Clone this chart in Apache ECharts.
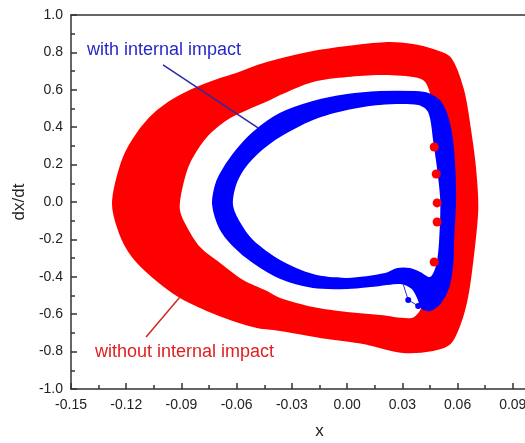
<!DOCTYPE html>
<html>
<head>
<meta charset="utf-8">
<script src="https://cdn.jsdelivr.net/npm/echarts@6/dist/echarts.min.js"></script>
<style>
html,body{margin:0;padding:0;background:#fff;}
#c{width:525px;height:443px;}
</style>
</head>
<body>
<div id="c"></div>
<script>
// ---- data ----
// "without internal impact" band: outer and inner edges [x, dx/dt], clockwise
const redOuter = [
  [-0.1272,-0.005],[-0.1224,0.209],[-0.1163,0.332],[-0.1071,0.449],[-0.0973,0.529],
  [-0.0853,0.594],[-0.0734,0.642],[-0.0620,0.679],[-0.0435,0.743],[-0.0185,0.802],[0.0000,0.829],
  [0.0217,0.850],[0.0359,0.840],[0.0467,0.813],[0.0560,0.770],[0.0630,0.599],
  [0.0668,0.385],[0.0696,0.171],[0.0707,-0.043],[0.0679,-0.326],[0.0652,-0.508],
  [0.0614,-0.647],[0.0560,-0.754],[0.0467,-0.791],[0.0304,-0.802],[0.0087,-0.754],
  [-0.0147,-0.722],[-0.0364,-0.684],[-0.0489,-0.668],[-0.0620,-0.631],[-0.0761,-0.578],
  [-0.0908,-0.508],[-0.1054,-0.401],[-0.1163,-0.294],[-0.1234,-0.166]
];
const redInner = [
  [-0.0908,-0.043],[-0.0897,0.064],[-0.0853,0.209],[-0.0761,0.348],[-0.0652,0.439],
  [-0.0543,0.492],[-0.0418,0.545],[-0.0364,0.572],[-0.0185,0.642],[0.0000,0.668],
  [0.0179,0.679],[0.0359,0.668],[0.0424,0.642],[0.0457,0.545],[0.0473,0.278],
  [0.0478,0.011],[0.0467,-0.310],[0.0440,-0.471],[0.0397,-0.578],[0.0353,-0.620],
  [0.0179,-0.604],[0.0000,-0.588],[-0.0185,-0.561],[-0.0364,-0.513],[-0.0435,-0.476],
  [-0.0565,-0.417],[-0.0690,-0.326],[-0.0799,-0.241],[-0.0870,-0.134]
];
const redDots = [[0.0473,0.294],[0.0484,0.150],[0.0489,-0.005],[0.0489,-0.107],[0.0473,-0.321]];

// "with internal impact" band
const blueOuter = [
  [-0.0728,-0.016],[-0.0717,0.075],[-0.0690,0.144],[-0.0620,0.251],[-0.0511,0.369],
  [-0.0364,0.471],[-0.0185,0.535],[0.0000,0.572],[0.0179,0.588],[0.0370,0.588],
  [0.0440,0.578],[0.0505,0.535],[0.0549,0.439],[0.0576,0.278],[0.0587,0.027],
  [0.0576,-0.203],[0.0571,-0.337],[0.0549,-0.460],[0.0505,-0.540],[0.0451,-0.578],
  [0.0408,-0.567],[0.0386,-0.513],[0.0353,-0.460],[0.0288,-0.433],[0.0179,-0.444],
  [0.0000,-0.460],[-0.0185,-0.455],[-0.0364,-0.406],[-0.0511,-0.321],[-0.0620,-0.230],
  [-0.0690,-0.139]
];
const blueInner = [
  [-0.0620,-0.016],[-0.0603,0.091],[-0.0554,0.182],[-0.0462,0.278],[-0.0364,0.348],
  [-0.0185,0.439],[0.0000,0.492],[0.0179,0.519],[0.0386,0.519],[0.0440,0.481],
  [0.0467,0.332],[0.0505,0.027],[0.0500,-0.203],[0.0484,-0.337],[0.0451,-0.401],
  [0.0397,-0.374],[0.0342,-0.353],[0.0272,-0.353],[0.0207,-0.380],[0.0000,-0.406],
  [-0.0185,-0.385],[-0.0364,-0.310],[-0.0511,-0.203],[-0.0582,-0.107]
];
const blueTail = [[0.0299,-0.422],[0.0332,-0.524],[0.0386,-0.556]];

// annotation pointers
const bluePointer = [[-0.1000,0.733],[-0.0484,0.396]];
const redPointer = [[-0.1092,-0.722],[-0.0908,-0.508]];
const blueLabel = 'with internal impact';
const redLabel = 'without internal impact';

// axes
const xMin = -0.15, xMax = 0.12, xStep = 0.03;
const yMin = -1.0, yMax = 1.0, yStep = 0.2;
const xName = 'x', yName = 'dx/dt';

const RED = '#ff0000', BLUE = '#0000ff';
const FONT = '"Liberation Sans", Arial, sans-serif';

// band = region between an outer and an inner closed edge
function bandSeries(name, outer, inner, color, z) {
  return {
    name: name, type: 'custom', coordinateSystem: 'cartesian2d', z: z,
    data: outer.concat(inner), silent: true, clip: true,
    renderItem: function (params, api) {
      if (params.dataIndex !== 0) return null;
      const po = outer.map(function (p) { return api.coord(p); });
      const pi = inner.map(function (p) { return api.coord(p); });
      return {type: 'group', children: [
        {type: 'polygon', shape: {points: po, smooth: 0.3},
          style: {fill: color, stroke: color, lineWidth: 2, lineJoin: 'round'}},
        {type: 'polygon', shape: {points: pi, smooth: 0.3},
          style: {fill: '#ffffff', stroke: null}}
      ]};
    }
  };
}

const chart = echarts.init(document.getElementById('c'), null, {renderer: 'canvas'});
const axisLine = {show: true, onZero: false, lineStyle: {color: '#333', width: 1.5}};
chart.setOption({
  animation: false,
  backgroundColor: '#fff',
  grid: {left: 71, top: 15, width: 497, height: 374, containLabel: false, outerBoundsMode: 'none'},
  xAxis: [{
    type: 'value', min: xMin, max: xMax, interval: xStep, position: 'bottom',
    name: xName, nameLocation: 'middle', nameGap: 34,
    nameTextStyle: {fontFamily: FONT, fontSize: 17, color: '#222'},
    axisLine: axisLine,
    axisTick: {show: true, inside: true, length: 6, lineStyle: {color: '#333', width: 1.5}},
    minorTick: {show: true, splitNumber: 2, length: 4, lineStyle: {color: '#333', width: 1.5}},
    axisLabel: {fontFamily: FONT, fontSize: 14, color: '#222', margin: 9,
      formatter: function (v) { return v.toFixed(2); }},
    splitLine: {show: false}
  }, {
    type: 'value', min: xMin, max: xMax, position: 'top',
    axisLine: axisLine, axisTick: {show: false}, axisLabel: {show: false}, splitLine: {show: false}
  }],
  yAxis: [{
    type: 'value', min: yMin, max: yMax, interval: yStep, position: 'left',
    name: yName, nameLocation: 'middle', nameGap: 36, nameRotate: 90,
    nameTextStyle: {fontFamily: FONT, fontSize: 17, color: '#222'},
    axisLine: axisLine,
    axisTick: {show: true, inside: true, length: 6, lineStyle: {color: '#333', width: 1.5}},
    minorTick: {show: true, splitNumber: 2, length: 4, lineStyle: {color: '#333', width: 1.5}},
    axisLabel: {fontFamily: FONT, fontSize: 14, color: '#222', margin: 8,
      formatter: function (v) { return v.toFixed(1); }},
    splitLine: {show: false}
  }],
  series: [
    bandSeries('without internal impact', redOuter, redInner, RED, 2),
    bandSeries('with internal impact', blueOuter, blueInner, BLUE, 4),
    {type: 'scatter', data: redDots, symbol: 'circle', symbolSize: 9, z: 5,
      itemStyle: {color: RED, opacity: 1}, silent: true},
    {type: 'line', data: blueTail, symbol: 'circle', symbolSize: 6, showSymbol: true, z: 5,
      lineStyle: {color: '#3030c0', width: 1}, itemStyle: {color: BLUE}, silent: true},
    {type: 'line', data: bluePointer, symbol: 'none', z: 6,
      lineStyle: {color: '#2a2aa8', width: 1.5}, silent: true},
    {type: 'line', data: redPointer, symbol: 'none', z: 6,
      lineStyle: {color: '#d02828', width: 1.5}, silent: true}
  ],
  graphic: [
    {type: 'text', left: 87, top: 41, z: 10,
      style: {text: blueLabel, fill: '#2828c8', font: '18px ' + FONT}},
    {type: 'text', left: 95, top: 343, z: 10,
      style: {text: redLabel, fill: '#e02020', font: '18px ' + FONT}}
  ]
});
</script>
</body>
</html>
